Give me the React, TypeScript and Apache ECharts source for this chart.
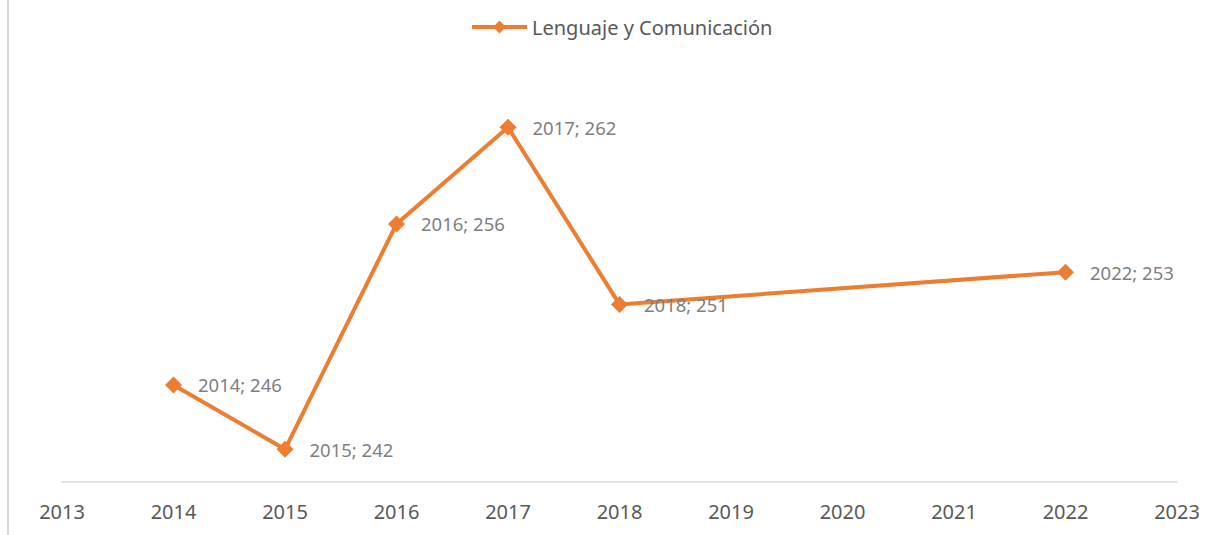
import React, { useEffect, useRef } from "react";
import * as echarts from "echarts";

const years = [2014, 2015, 2016, 2017, 2018, 2022];
const scores = [246, 242, 256, 262, 251, 253];
const seriesName = "Lenguaje y Comunicación";
const xMin = 2013;
const xMax = 2023;
const yMin = 240;
const yMax = 265;

const FONT = "'Noto Sans', 'Open Sans', sans-serif";
const ORANGE = "#ED7D31";

export default function App() {
  const ref = useRef<HTMLDivElement>(null);
  useEffect(() => {
    if (!ref.current) return;
    const chart = echarts.init(ref.current, null, { renderer: "svg" });
    const data = years.map((y, i) => [y, scores[i]]);
    chart.setOption({
      animation: false,
      backgroundColor: "#ffffff",
      textStyle: { fontFamily: FONT },
      grid: { left: 62, right: 45, top: 79, bottom: 53.5, containLabel: false },
      legend: {
        show: true,
        left: 465,
        top: 12,
        itemWidth: 55,
        itemHeight: 16,
        itemGap: 10,
        lineStyle: { width: 4 },
        textStyle: { color: "#595959", fontSize: 20, fontFamily: FONT },
        data: [{ name: seriesName }],
      },
      xAxis: {
        type: "value",
        min: xMin,
        max: xMax,
        interval: 1,
        axisLine: { show: true, lineStyle: { color: "#D9D9D9", width: 1.5 } },
        axisTick: { show: false },
        splitLine: { show: false },
        axisLabel: {
          color: "#595959",
          fontSize: 20,
          fontFamily: FONT,
          margin: 20,
          formatter: (v: number) => String(v),
        },
      },
      yAxis: {
        type: "value",
        min: yMin,
        max: yMax,
        show: false,
        splitLine: { show: false },
      },
      graphic: [
        {
          type: "line",
          shape: { x1: 8, y1: 0, x2: 8, y2: 535 },
          style: { stroke: "#D9D9D9", lineWidth: 2 },
        },
      ],
      series: [
        {
          name: seriesName,
          type: "line",
          data,
          symbol: "diamond",
          symbolSize: 17,
          itemStyle: { color: ORANGE },
          lineStyle: { color: ORANGE, width: 4 },
          label: {
            show: true,
            position: "right",
            distance: 16,
            color: "#7F7F7F",
            fontSize: 18.5,
            fontFamily: FONT,
            formatter: (p: any) => `${p.value[0]}; ${p.value[1]}`,
          },
        },
      ],
    });
    return () => chart.dispose();
  }, []);
  return (
    <div
      ref={ref}
      style={{ position: "fixed", left: 0, top: 0, width: 1222, height: 535 }}
    />
  );
}
